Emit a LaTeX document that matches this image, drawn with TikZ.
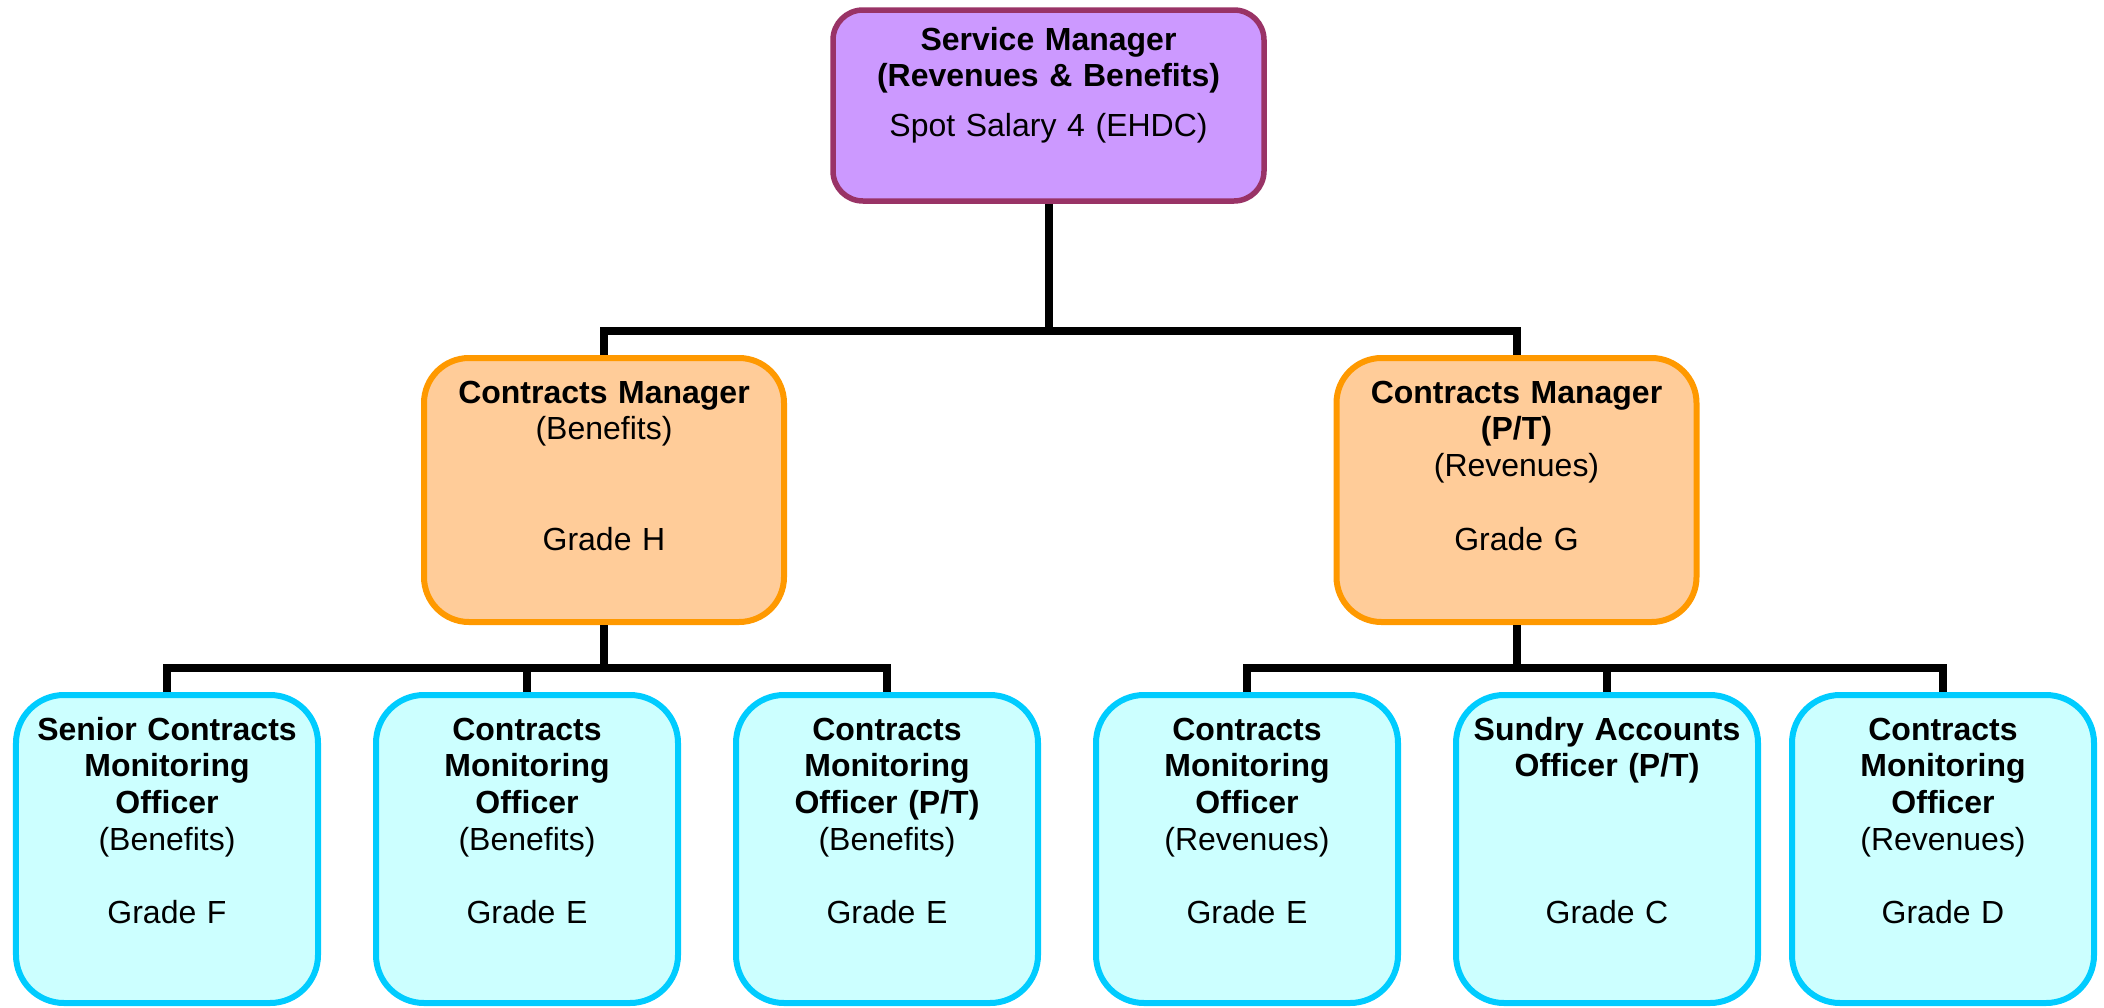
\documentclass[tikz,border=0pt]{standalone}
\usepackage{fontspec}
\setmainfont{Liberation Sans}
\usetikzlibrary{calc}
\definecolor{smfill}{HTML}{CC99FF}
\definecolor{smline}{HTML}{993366}
\definecolor{cmfill}{HTML}{FFCC99}
\definecolor{cmline}{HTML}{FF9900}
\definecolor{offill}{HTML}{CCFFFF}
\definecolor{ofline}{HTML}{00CCFF}

\begin{document}
\begin{tikzpicture}[
  post/.style={draw,rectangle,line width=.06cm},
  toppost/.style={post,fill=smfill,draw=smline,line width=.055cm,rounded corners=.3cm,minimum width=4.31cm,minimum height=1.91cm},
  midpost/.style={post,fill=cmfill,draw=cmline,rounded corners=.45cm,minimum width=3.6cm,minimum height=2.64cm},
  lowpost/.style={post,fill=offill,draw=ofline,rounded corners=.48cm,minimum width=3.02cm,minimum height=3.08cm},
  posttext/.style={anchor=base,align=center,text width=4cm,inner sep=0pt,font=\fontsize{9.1pt}{10.45pt}\selectfont},
  link/.style={line width=.08cm}]
\useasboundingbox (0,0) rectangle (21.04,-10.07);

\node[toppost] (sm) at (10.485,-1.055) {};
\node[midpost] (cmb) at (6.04,-4.9) {};
\node[midpost] (cmr) at (15.165,-4.9) {};
\node[lowpost] (scmo) at (1.67,-8.49) {};
\node[lowpost] (cmo) at (5.27,-8.49) {};
\node[lowpost] (cmop) at (8.87,-8.49) {};
\node[lowpost] (cmor) at (12.47,-8.49) {};
\node[lowpost] (sao) at (16.07,-8.49) {};
\node[lowpost] (cmod) at (19.43,-8.49) {};

\draw[link] (sm.south) -- (sm.south |- 0,-3.31) coordinate (j1);
\draw[link] (cmb.north) |- (j1) -| (cmr.north);
\draw[link] (cmb.south) -- (cmb.south |- 0,-6.68) coordinate (j2);
\draw[link] (scmo.north) |- (j2) -| (cmop.north);
\draw[link] (cmo.north) -- (cmo.north |- j2);
\draw[link] (cmr.south) -- (cmr.south |- 0,-6.68) coordinate (j3);
\draw[link] (cmor.north) |- (j3) -| (cmod.north);
\draw[link] (sao.north) -- (sao.north |- j3);

\node[posttext] (sm-t) at ([yshift=-.43cm]sm.north) {\textbf{Service Manager}\\\textbf{(Revenues \& Benefits)}\\[.13cm]Spot Salary 4 (EHDC)};
\node[posttext] (cmb-t) at ([yshift=-.48cm]cmb.north) {\textbf{Contracts Manager}\\(Benefits)\\[.74cm]Grade H};
\node[posttext] (cmr-t) at ([yshift=-.48cm]cmr.north) {\textbf{Contracts Manager}\\\textbf{(P/T)}\\(Revenues)\\[.37cm]Grade G};
\node[posttext] (scmo-t) at ([yshift=-.48cm]scmo.north) {\textbf{Senior Contracts}\\\textbf{Monitoring}\\\textbf{Officer}\\(Benefits)\\[.37cm]Grade F};
\node[posttext] (cmo-t) at ([yshift=-.48cm]cmo.north) {\textbf{Contracts}\\\textbf{Monitoring}\\\textbf{Officer}\\(Benefits)\\[.37cm]Grade E};
\node[posttext] (cmop-t) at ([yshift=-.48cm]cmop.north) {\textbf{Contracts}\\\textbf{Monitoring}\\\textbf{Officer (P/T)}\\(Benefits)\\[.37cm]Grade E};
\node[posttext] (cmor-t) at ([yshift=-.48cm]cmor.north) {\textbf{Contracts}\\\textbf{Monitoring}\\\textbf{Officer}\\(Revenues)\\[.37cm]Grade E};
\node[posttext] (sao-t) at ([yshift=-.48cm]sao.north) {\textbf{Sundry Accounts}\\\textbf{Officer (P/T)}\\[1.1cm]Grade C};
\node[posttext] (cmod-t) at ([yshift=-.48cm]cmod.north) {\textbf{Contracts}\\\textbf{Monitoring}\\\textbf{Officer}\\(Revenues)\\[.37cm]Grade D};
\end{tikzpicture}
\end{document}
